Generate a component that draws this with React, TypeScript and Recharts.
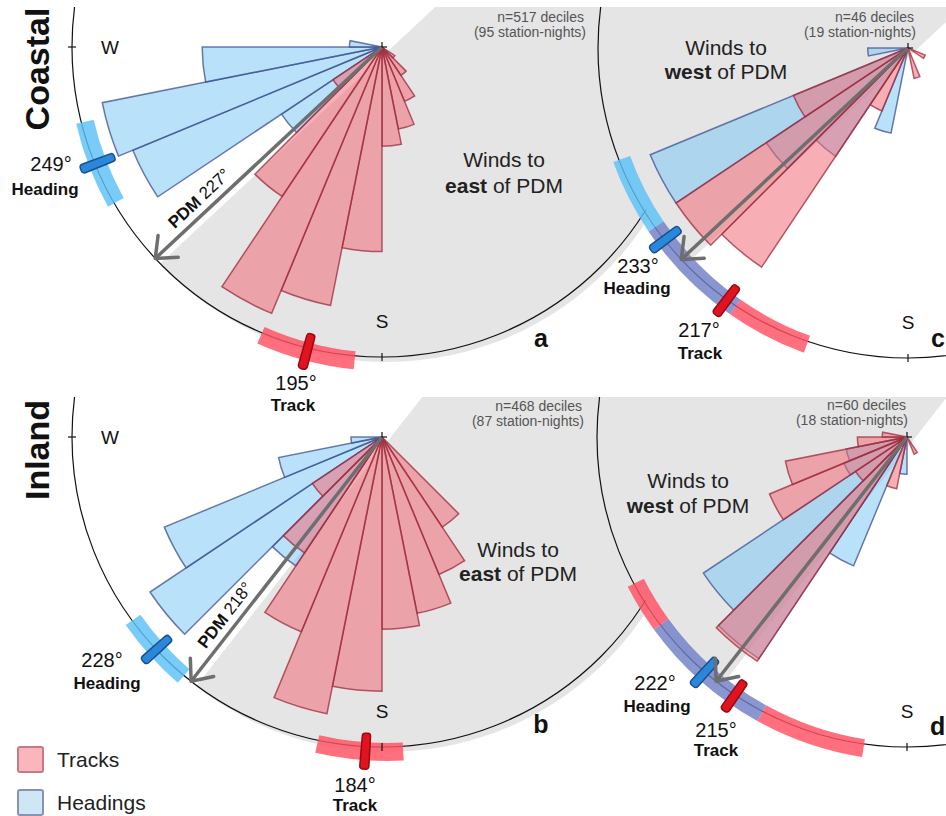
import React from "react";
import {
  PieChart,
  Pie,
  Cell,
  RadialBarChart,
  RadialBar,
  PolarAngleAxis,
  PolarRadiusAxis,
  PolarGrid,
} from "recharts";

// bearing (deg) where each 11.25 deg bin starts, E round to NW
const binStarts = [
  "90", "101.25", "112.5", "123.75", "135", "146.25", "157.5", "168.75", "180", "191.25",
  "202.5", "213.75", "225", "236.25", "247.5", "258.75", "270", "281.25", "292.5", "303.75",
];

// wedge length per bin, as share of the outer circle
const coastalEastTracks = [null, null, null, 0.05, 0.11, 0.19, 0.27, 0.32, 0.66, 0.85, 0.93, 0.58, 0.19, null, null, null, null, null, null, null];
const coastalEastHeadings = [null, null, null, null, null, null, null, null, null, null, null, null, 0.39, 0.87, 0.92, 0.58, 0.105, null, null, null];
const inlandEastTracks = [null, null, null, null, 0.35, 0.48, 0.58, 0.62, 0.82, 0.91, 0.68, 0.45, 0.27, null, null, null, null, null, null, null];
const inlandEastHeadings = [null, null, null, null, null, null, null, null, null, null, null, 0.5, 0.9, 0.76, 0.34, 0.1, null, null, null, null];
const coastalWestTracks = [null, null, 0.06, null, null, null, 0.1, null, null, null, 0.22, 0.85, 0.9, 0.4, null, null, null, null, null, null];
const coastalWestHeadings = [null, null, null, null, null, null, null, null, null, 0.28, null, 0.42, 0.55, 0.9, null, 0.13, null, null, null, null];
const inlandWestTracks = [null, null, null, null, null, 0.06, null, null, null, 0.17, null, 0.87, 0.2, 0.48, 0.4, 0.16, 0.08, null, null, null];
const inlandWestHeadings = [null, null, null, null, null, null, null, null, 0.12, null, 0.45, 0.86, 0.79, 0.22, 0.2, null, null, null, null, null];

// mean direction and its spread, bearings in deg
const headingMeans = { a: 249, b: 228, c: 233, d: 222 };
const trackMeans = { a: 195, b: 184, c: 217, d: 215 };
const headingSpread = { a: [241, 257], b: [221, 235], c: [215, 250], d: [209, 234] };
const trackSpread = { a: [186, 204], b: [177, 193], c: [200, 236], d: [189, 243] };
const pdmBearing = { coastal: 227, inland: 218 };
const deciles = { a: 517, b: 468, c: 46, d: 60 };
const stationNights = { a: 95, b: 87, c: 19, d: 18 };
const compassNames: Record<number, string> = { 270: "W", 180: "S" };

const R = 310;
const BIN = 11.25;
const FONT = '"Liberation Sans", Arial, Helvetica, sans-serif';
const GRAY = "#e5e5e5";

const panels = [
  { id: "a", side: "east", pdm: pdmBearing.coastal, tracks: coastalEastTracks, headings: coastalEastHeadings, compass: [270, 180] },
  { id: "b", side: "east", pdm: pdmBearing.inland, tracks: inlandEastTracks, headings: inlandEastHeadings, compass: [270, 180] },
  { id: "c", side: "west", pdm: pdmBearing.coastal, tracks: coastalWestTracks, headings: coastalWestHeadings, compass: [180] },
  { id: "d", side: "west", pdm: pdmBearing.inland, tracks: inlandWestTracks, headings: inlandWestHeadings, compass: [180] },
];

const boxes: Record<string, any> = {
  a: { left: 0, top: 7, width: 700, height: 410, cx: 382, cy: 40 },
  b: { left: 0, top: 397, width: 700, height: 419, cx: 382, cy: 40 },
  c: { left: 560, top: 7, width: 386, height: 390, cx: 348, cy: 41 },
  d: { left: 560, top: 397, width: 386, height: 419, cx: 347, cy: 40 },
};

// text anchors inside each panel box
const textSpots: Record<string, any> = {
  a: { n: [584, 15], windsX: 504, winds: [160, 186], letter: [541, 340], hNum: [51, 164], hWord: [45, 188], tNum: [296, 383], tWord: [293, 404] },
  b: { n: [582, 14], windsX: 518, winds: [160, 184], letter: [541, 336], hNum: [102, 270], hWord: [107, 292], tNum: [355, 395], tWord: [355, 414] },
  c: { n: [354, 15], windsX: 166, winds: [48, 72], letter: [371, 340], hNum: [78, 266], hWord: [77, 287], tNum: [139, 330], tWord: [140, 352] },
  d: { n: [346, 13], windsX: 128, winds: [91, 116], letter: [370, 338], hNum: [95, 293], hWord: [97, 315], tNum: [156, 340], tWord: [156, 359] },
};

function halfDisk(pdm: number, side: string) {
  if (side === "east") {
    return [
      { v: pdm - 180, fill: "none" },
      { v: 180, fill: GRAY },
      { v: 360 - pdm, fill: "none" },
    ];
  }
  return [
    { v: pdm - 180, fill: GRAY },
    { v: 180, fill: "#ffffff" },
    { v: 360 - pdm, fill: GRAY },
  ];
}

// split the circle into pieces coloured by which spread covers them
function spreadArcs(h: number[], t: number[]) {
  const cuts = Array.from(new Set([0, h[0], h[1], t[0], t[1], 360])).sort((x, y) => x - y);
  const out = [];
  for (let i = 0; i < cuts.length - 1; i++) {
    const mid = (cuts[i] + cuts[i + 1]) / 2;
    const inH = mid > h[0] && mid < h[1];
    const inT = mid > t[0] && mid < t[1];
    out.push({
      v: cuts[i + 1] - cuts[i],
      fill: inH && inT ? "#6f7fc4" : inH ? "#5cc1f5" : inT ? "#ff4f60" : "none",
    });
  }
  return out;
}

function meanTicks(hm: number, tm: number) {
  const w = 0.8;
  const marks = [
    { lo: hm - w, hi: hm + w, fill: "#2a88da", stroke: "#1a4f8f" },
    { lo: tm - w, hi: tm + w, fill: "#e0141f", stroke: "#980a14" },
  ].sort((x, y) => x.lo - y.lo);
  const out = [];
  let at = 0;
  marks.forEach((m) => {
    out.push({ v: m.lo - at, fill: "none", stroke: "none" });
    out.push({ v: m.hi - m.lo, fill: m.fill, stroke: m.stroke });
    at = m.hi;
  });
  out.push({ v: 360 - at, fill: "none", stroke: "none" });
  return out;
}

// point at a compass bearing and radius from the panel centre
function polar(cx: number, cy: number, r: number, bearing: number) {
  const b = (bearing * Math.PI) / 180;
  return { x: cx + r * Math.sin(b), y: cy - r * Math.cos(b) };
}

const layer: React.CSSProperties = { position: "absolute", left: 0, top: 0 };

function Panel({ cfg }: { cfg: any }) {
  const box = boxes[cfg.id];
  const spot = textSpots[cfg.id];
  const { width: w, height: h, cx, cy } = box;
  const rows = binStarts.map((bin, i) => ({ bin, track: cfg.tracks[i], heading: cfg.headings[i] }));
  const disk = halfDisk(cfg.pdm, cfg.side);
  const arcs = spreadArcs(headingSpread[cfg.id], trackSpread[cfg.id]);
  const ticks = meanTicks(headingMeans[cfg.id], trackMeans[cfg.id]);

  // recharts starts a centric bar at the far edge of its band, so the
  // angle range is turned back by one bin to line the wedges up
  const rose = (key: string, fill: string, stroke: string, circle: boolean) => (
    <div style={layer}>
      <RadialBarChart
        width={w}
        height={h}
        data={rows}
        cx={cx}
        cy={cy}
        innerRadius={0}
        outerRadius={R}
        startAngle={-BIN}
        endAngle={-225 - BIN}
        layout="centric"
        barCategoryGap={0}
        barSize={BIN - 0.001}
      >
        <PolarAngleAxis type="category" dataKey="bin" tick={false} tickLine={false} axisLine={false} />
        <PolarRadiusAxis type="number" domain={[0, 1]} tick={false} axisLine={false} />
        {circle && (
          <PolarGrid gridType="circle" polarAngles={[]} polarRadius={[R]} radialLines={false} stroke="#111" strokeWidth={1.2} />
        )}
        <RadialBar
          dataKey={key}
          fill={fill}
          fillOpacity={0.55}
          stroke={stroke}
          strokeOpacity={0.75}
          strokeWidth={1.5}
          isAnimationActive={false}
        />
      </RadialBarChart>
    </div>
  );

  const pb = (cfg.pdm * Math.PI) / 180;
  const along = 237;
  const off = 14;
  const lx = cx + along * Math.sin(pb) + off * Math.cos(pb);
  const ly = cy - along * Math.cos(pb) + off * Math.sin(pb);
  const rot = (Math.atan2(Math.cos(pb), -Math.sin(pb)) * 180) / Math.PI;

  return (
    <div style={{ position: "absolute", left: box.left, top: box.top, width: w, height: h, overflow: "hidden" }}>
      <div style={layer}>
        <PieChart width={w} height={h}>
          <Pie data={disk} dataKey="v" cx={cx} cy={cy} innerRadius={0} outerRadius={R} startAngle={90} endAngle={-270} stroke="none" isAnimationActive={false}>
            {disk.map((d, i) => (
              <Cell key={i} fill={d.fill} />
            ))}
          </Pie>
        </PieChart>
      </div>
      {rose("heading", "rgb(130,200,245)", "#3d4f8c", true)}
      {rose("track", "rgb(240,110,120)", "#9e2b3b", false)}
      <div style={layer}>
        <PieChart width={w} height={h}>
          <Pie data={arcs} dataKey="v" cx={cx} cy={cy} innerRadius={301} outerRadius={319} startAngle={90} endAngle={-270} stroke="none" isAnimationActive={false}>
            {arcs.map((d, i) => (
              <Cell key={i} fill={d.fill} fillOpacity={0.82} />
            ))}
          </Pie>
          <Pie data={ticks} dataKey="v" cx={cx} cy={cy} innerRadius={292} outerRadius={328} startAngle={90} endAngle={-270} cornerRadius={3} isAnimationActive={false}>
            {ticks.map((d, i) => (
              <Cell key={i} fill={d.fill} stroke={d.stroke} strokeWidth={1.5} />
            ))}
          </Pie>
        </PieChart>
      </div>
      <div style={layer}>
        <RadialBarChart width={w} height={h} data={rows} cx={cx} cy={cy} innerRadius={0} outerRadius={R} startAngle={90} endAngle={-270}>
          <PolarGrid
            gridType="circle"
            polarAngles={[90 - cfg.pdm]}
            polarRadius={[]}
            radialLines
            outerRadius={R}
            stroke="#6e6e6e"
            strokeWidth={3.5}
            markerEnd="url(#pdmArrow)"
          />
        </RadialBarChart>
      </div>
      <svg style={layer} width={w} height={h} fontFamily={FONT}>
        {/* compass ticks on the rim and at the centre */}
        {cfg.compass.map((bearing: number) => {
          const p1 = polar(cx, cy, R - 4, bearing);
          const p2 = polar(cx, cy, R + 4, bearing);
          const t = polar(cx, cy, R - 29, bearing);
          const isW = bearing === 270;
          return (
            <g key={bearing}>
              <line x1={p1.x} y1={p1.y} x2={p2.x} y2={p2.y} stroke="#111" strokeWidth={1.2} />
              <text
                x={t.x}
                y={t.y}
                textAnchor={isW ? "start" : "middle"}
                dominantBaseline={isW ? "central" : "auto"}
                fontSize={19}
                fill="#111"
              >
                {compassNames[bearing]}
              </text>
            </g>
          );
        })}
        <line x1={cx} y1={cy} x2={cx} y2={cy - 5} stroke="#111" strokeWidth={1.2} />
        <line x1={cx} y1={cy} x2={cx + 5} y2={cy} stroke="#111" strokeWidth={1.2} />
        <text x={spot.n[0]} y={spot.n[1]} textAnchor="end" fontSize={14} fill="#555">
          n={deciles[cfg.id]} deciles
        </text>
        <text x={spot.n[0] + 2} y={spot.n[1] + 15} textAnchor="end" fontSize={14} fill="#555">
          ({stationNights[cfg.id]} station-nights)
        </text>
        <text x={spot.windsX} y={spot.winds[0]} textAnchor="middle" fontSize={21} fill="#222">
          Winds to
        </text>
        <text x={spot.windsX} y={spot.winds[1]} textAnchor="middle" fontSize={21} fill="#222">
          <tspan fontWeight="bold">{cfg.side}</tspan> of PDM
        </text>
        <text x={spot.letter[0]} y={spot.letter[1]} textAnchor={cfg.side === "east" ? "middle" : "start"} fontSize={25} fontWeight="bold" fill="#111">
          {cfg.id}
        </text>
        <text x={spot.hNum[0]} y={spot.hNum[1]} textAnchor="middle" fontSize={20} fill="#111">
          {headingMeans[cfg.id]}°
        </text>
        <text x={spot.hWord[0]} y={spot.hWord[1]} textAnchor="middle" fontSize={17} fontWeight="bold" fill="#111">
          Heading
        </text>
        <text x={spot.tNum[0]} y={spot.tNum[1]} textAnchor="middle" fontSize={20} fill="#111">
          {trackMeans[cfg.id]}°
        </text>
        <text x={spot.tWord[0]} y={spot.tWord[1]} textAnchor="middle" fontSize={17} fontWeight="bold" fill="#111">
          Track
        </text>
        {cfg.side === "east" && (
          <text transform={`translate(${lx},${ly}) rotate(${rot})`} textAnchor="middle" dominantBaseline="central" fontSize={17} fill="#111">
            <tspan fontWeight="bold">PDM</tspan> {cfg.pdm}°
          </text>
        )}
      </svg>
    </div>
  );
}

export default function App() {
  return (
    <div style={{ position: "absolute", left: 0, top: 0, width: 946, height: 816, background: "#fff", overflow: "hidden" }}>
      <svg width={0} height={0} style={{ position: "absolute" }}>
        <defs>
          <marker id="pdmArrow" viewBox="-24 -18 28 36" refX={0} refY={0} markerWidth={28} markerHeight={36} markerUnits="userSpaceOnUse" orient="auto">
            <path d="M-17.6,-14.8 L0,0 L-17.6,14.8" fill="none" stroke="#6e6e6e" strokeWidth={3.5} strokeLinecap="round" strokeLinejoin="round" />
          </marker>
        </defs>
      </svg>
      {panels.map((p) => (
        <Panel key={p.id} cfg={p} />
      ))}
      <svg style={{ position: "absolute", left: 0, top: 0 }} width={946} height={816} fontFamily={FONT} pointerEvents="none">
        <text transform="translate(49,69) rotate(-90)" textAnchor="middle" fontSize={34} fontWeight="bold" fill="#111">
          Coastal
        </text>
        <text transform="translate(49,450) rotate(-90)" textAnchor="middle" fontSize={34} fontWeight="bold" fill="#111">
          Inland
        </text>
        <rect x={18} y={747} width={25} height={25} rx={2} fill="#fbb6bc" stroke="#c47b86" strokeWidth={2} />
        <text x={57} y={767} fontSize={21} fill="#222">
          Tracks
        </text>
        <rect x={18} y={790} width={25} height={25} rx={2} fill="#cfe6f5" stroke="#8b91b3" strokeWidth={2} />
        <text x={57} y={810} fontSize={21} fill="#222">
          Headings
        </text>
      </svg>
    </div>
  );
}
